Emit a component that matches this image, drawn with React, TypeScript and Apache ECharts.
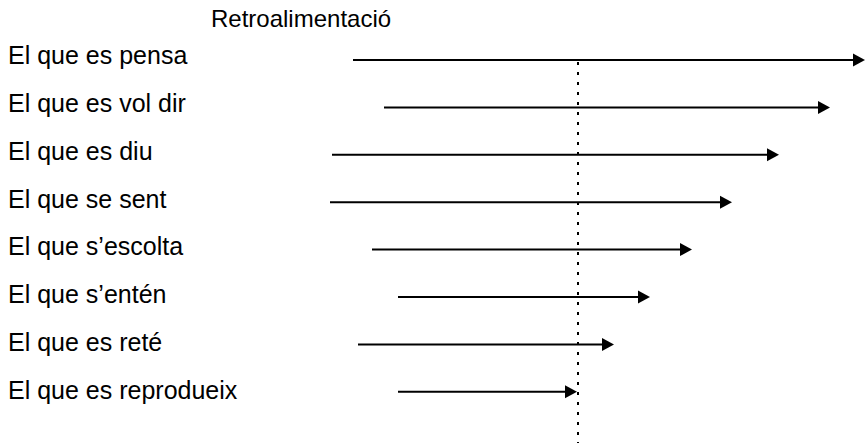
import React, { useEffect, useRef } from "react";
import * as echarts from "echarts";

const titleText = "Retroalimentació";
const categories = [
  "El que es pensa",
  "El que es vol dir",
  "El que es diu",
  "El que se sent",
  "El que s’escolta",
  "El que s’entén",
  "El que es reté",
  "El que es reprodueix",
];
const arrowStarts = [353, 384, 332, 330, 372, 398, 358, 398];
const arrowEnds = [865, 830, 779, 732, 692, 650, 614, 577];
const referenceLine = [578];

const FONT = "'Liberation Sans', Arial, Helvetica, sans-serif";

export default function App() {
  const ref = useRef<HTMLDivElement>(null);
  useEffect(() => {
    document.body.style.margin = "0";
    const chart = echarts.init(ref.current!, null, { renderer: "svg" });
    const arrowData = categories.map((_, i) => [arrowStarts[i], arrowEnds[i], i]);
    chart.setOption({
      animation: false,
      title: {
        text: titleText,
        left: 206,
        top: 1.5,
        textStyle: { fontFamily: FONT, fontSize: 24, fontWeight: "normal", color: "#000" },
      },
      grid: [
        { left: 0, right: 0, top: 31.6, bottom: 29.4 },
        { left: 0, right: 0, top: 36.3, bottom: 27.5 },
      ],
      xAxis: [
        { type: "value", gridIndex: 0, min: 0, max: 865, show: false },
        { type: "value", gridIndex: 1, min: 0, max: 865, show: false },
      ],
      yAxis: [
        {
          type: "category",
          gridIndex: 0,
          data: categories,
          inverse: true,
          axisLine: { show: false },
          axisTick: { show: false },
          splitLine: { show: false },
          axisLabel: {
            inside: true,
            margin: 8,
            align: "left",
            fontSize: 25,
            color: "#000",
            fontFamily: FONT,
          },
        },
        {
          type: "category",
          gridIndex: 1,
          data: categories,
          inverse: true,
          show: false,
        },
      ],
      series: [
        {
          type: "custom",
          xAxisIndex: 1,
          yAxisIndex: 1,
          data: arrowData,
          encode: { x: [0, 1], y: 2 },
          renderItem: (params: any, api: any) => {
            const s = api.coord([api.value(0), api.value(2)]);
            const e = api.coord([api.value(1), api.value(2)]);
            const L = 12;
            const H = 6.5;
            return {
              type: "group",
              children: [
                {
                  type: "line",
                  shape: { x1: s[0], y1: s[1], x2: e[0] - L + 1, y2: e[1] },
                  style: { stroke: "#000", lineWidth: 2 },
                },
                {
                  type: "polygon",
                  shape: {
                    points: [
                      [e[0], e[1]],
                      [e[0] - L, e[1] - H],
                      [e[0] - L, e[1] + H],
                    ],
                  },
                  style: { fill: "#000" },
                },
              ],
            };
          },
        },
        {
          type: "custom",
          xAxisIndex: 1,
          yAxisIndex: 1,
          data: referenceLine.map((v) => [v, 0]),
          encode: { x: 0, y: 1 },
          renderItem: (params: any, api: any) => {
            const p = api.coord([api.value(0), api.value(1)]);
            return {
              type: "line",
              shape: { x1: p[0], y1: p[1] + 2, x2: p[0], y2: api.getHeight() },
              style: { stroke: "#000", lineWidth: 2, lineDash: [3, 7] },
            };
          },
        },
      ],
    });
    return () => chart.dispose();
  }, []);
  return <div ref={ref} style={{ width: 865, height: 443 }} />;
}
